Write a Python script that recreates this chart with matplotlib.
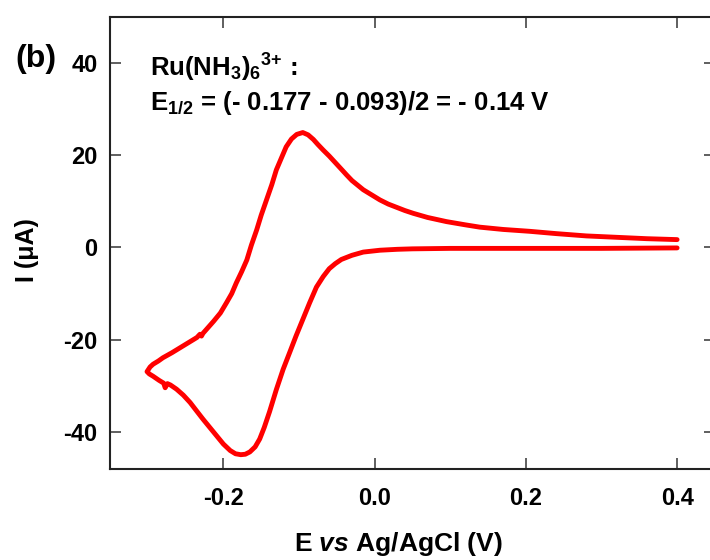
import matplotlib
matplotlib.use("Agg")
import matplotlib.pyplot as plt
import numpy as np

plt.rcParams['font.family'] = ['Liberation Sans', 'DejaVu Sans']
plt.rcParams['font.weight'] = 'bold'
plt.rcParams['mathtext.fontset'] = 'custom'
plt.rcParams['mathtext.rm'] = 'Liberation Sans:bold'
plt.rcParams['mathtext.bf'] = 'Liberation Sans:bold'
plt.rcParams['mathtext.it'] = 'Liberation Sans:italic:bold'
plt.rcParams['mathtext.default'] = 'rm'

# cathodic scan, 0.4 V -> -0.3 V
fwd_E = [0.400, 0.300, 0.200, 0.100, 0.050, 0.030, 0.007, -0.015, -0.030, -0.044,
         -0.052, -0.060, -0.068, -0.077, -0.086, -0.095, -0.104, -0.112, -0.121,
         -0.130, -0.139, -0.146, -0.152, -0.158, -0.165, -0.171, -0.177, -0.184,
         -0.191, -0.200, -0.209, -0.218, -0.227, -0.236, -0.244, -0.253, -0.262,
         -0.270, -0.274, -0.277, -0.279, -0.285, -0.293, -0.298, -0.301]
fwd_I = [-0.1, -0.2, -0.2, -0.2, -0.3, -0.4, -0.6, -1.0, -1.7, -2.6,
         -3.5, -4.6, -6.3, -8.6, -12.0, -15.6, -19.2, -22.6, -26.4,
         -30.8, -35.6, -39.0, -41.5, -43.2, -44.3, -44.8, -44.9, -44.7,
         -44.0, -42.6, -40.8, -39.0, -37.2, -35.3, -33.6, -32.0, -30.7,
         -29.8, -29.5, -30.4, -29.4, -28.8, -27.9, -27.4, -26.9]

# anodic scan, -0.3 V -> 0.4 V
rev_E = [-0.301, -0.297, -0.293, -0.286, -0.280, -0.268, -0.257, -0.246, -0.235,
         -0.231, -0.229, -0.227, -0.220, -0.213, -0.204, -0.196, -0.189, -0.183,
         -0.176, -0.169, -0.163, -0.156, -0.150, -0.143, -0.136, -0.130, -0.123,
         -0.117, -0.110, -0.103, -0.095, -0.088, -0.081, -0.075, -0.068, -0.060,
         -0.051, -0.042, -0.037, -0.030, -0.015, 0.000, 0.007, 0.018, 0.029,
         0.040, 0.051, 0.070, 0.095, 0.120, 0.139, 0.170, 0.205, 0.240, 0.280,
         0.320, 0.360, 0.400]
rev_I = [-26.9, -25.9, -25.3, -24.6, -23.9, -22.8, -21.7, -20.6, -19.5,
         -18.8, -19.2, -18.6, -17.3, -16.0, -14.2, -12.0, -10.0, -7.7,
         -5.3, -2.7, 0.5, 3.8, 7.0, 10.3, 13.6, 16.8, 19.5,
         21.8, 23.5, 24.5, 24.9, 24.4, 23.4, 22.3, 21.1, 19.8,
         18.2, 16.6, 15.7, 14.5, 12.5, 11.0, 10.3, 9.4, 8.7,
         8.0, 7.4, 6.5, 5.6, 4.9, 4.4, 3.9, 3.5, 3.0, 2.5,
         2.2, 1.9, 1.7]

E = np.array(fwd_E + rev_E[1:])
I = np.array(fwd_I + rev_I[1:])

fig = plt.figure(figsize=(7.1, 5.6), dpi=100)
ax = fig.add_axes([0.1549, 0.1625, 0.852, 0.8077])

ax.plot(E, I, color='#ff0000', lw=3.5, solid_joinstyle='round', solid_capstyle='round')

ax.set_xlim(-0.35, 0.45)
ax.set_ylim(-48, 50)
ax.set_xticks([-0.2, 0.0, 0.2, 0.4])
ax.set_xticklabels(['-0.2', '0.0', '0.2', '0.4'])
ax.set_yticks([-40, -20, 0, 20, 40])
ax.set_yticklabels(['-40', '-20', '0', '20', '40'])
ax.tick_params(direction='in', length=8, width=1.2, color='#444', top=True, right=True,
               labelsize=17)
ax.tick_params(axis='x', pad=13)
ax.tick_params(axis='y', pad=9)
for s in ax.spines.values():
    s.set_linewidth(1.5)
    s.set_color('#222')

ax.set_xlabel(r'E $\it{vs}$ Ag/AgCl (V)', fontsize=19, fontweight='bold')
ax.xaxis.set_label_coords(0.476, -0.135)
ax.set_ylabel('I (μA)', fontsize=18, fontweight='bold')
ax.yaxis.set_label_coords(-0.117, 0.484)

ax.text(150 / 710, 1 - 77 / 560, r'Ru(NH$_3$)$_6{}^{3{+}}$ :', transform=fig.transFigure,
        fontsize=18.5, fontweight='bold', va='baseline', ha='left')
ax.text(150 / 710, 1 - 110 / 560, r'E$_{1/2}$ = (- 0.177 - 0.093)/2 = - 0.14 V',
        transform=fig.transFigure, fontsize=18.5, fontweight='bold', va='baseline', ha='left')
fig.text(15 / 710, 1 - 67 / 560, '(b)', fontsize=23, fontweight='bold', va='baseline', ha='left')

fig.savefig('out.png', dpi=100)
